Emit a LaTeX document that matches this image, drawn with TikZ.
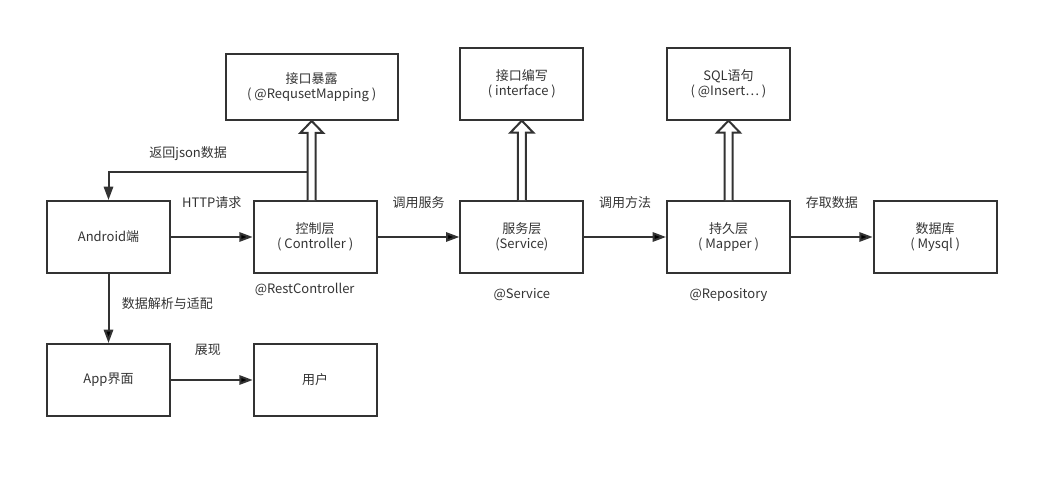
\documentclass[tikz,border=0pt]{standalone}
\usepackage{fontspec}
\setmainfont{Noto Sans CJK SC}
\usepackage{tikz}
\usetikzlibrary{arrows.meta,calc,positioning}
\definecolor{ink}{HTML}{333333}

\begin{document}
\begin{tikzpicture}[x=0.75pt,y=0.75pt,node distance=155pt,on grid,
    >={Triangle[length=10pt,width=7pt]},
    every node/.style={text=ink,font=\fontsize{9.75}{11.25}\selectfont},
    box/.style={draw=ink,line width=1.5pt,minimum width=92.25pt,minimum height=54pt,inner sep=0pt,align=center},
    wire/.style={draw=ink,line width=1.5pt},
    hollow/.style={draw=ink,line width=1.5pt,fill=white,line join=miter}]
    \useasboundingbox (0,0) rectangle (1058,-478);
    \node[box] (android)                        at (108.5,-237) {Android端};
    \node[box] (ctrl)   [right=of android]      {控制层\\( Controller )};
    \node[box] (svc)    [right=of ctrl]         {服务层\\(Service)};
    \node[box] (mapper) [right=of svc]          {持久层\\( Mapper )};
    \node[box] (db)     [right=of mapper]       {数据库\\( Mysql )};
    \node[box] (app)    [below=107.25pt of android] {App界面};
    \node[box] (user)   [right=of app]          {用户};
    \node[box,minimum width=129pt,minimum height=49.5pt] (expo) [above=112.5pt of ctrl,xshift=-2.6pt] {接口暴露\\( @RequsetMapping )};
    \node[box] (iface)  [above=115pt of svc]    {接口编写\\( interface )};
    \node[box] (sql)    [above=115pt of mapper] {SQL语句\\( @Insert… )};
    % annotations
    \node (rest)  [below=3pt of ctrl.south,xshift=-7.9pt] {@RestController};
    \node (serv)  [below=7.5pt of svc.south]    {@Service};
    \node (repo)  [below=7.5pt of mapper.south] {@Repository};
    \path[->,wire]
    (android) edge node[yshift=25.5pt] {HTTP请求} (ctrl)
    (ctrl)    edge node[yshift=25.5pt] {调用服务} (svc)
    (svc)     edge node[yshift=25.5pt] {调用方法} (mapper)
    (mapper)  edge node[yshift=25.5pt] {存取数据} (db)
    % bottom edges
    (android) edge node[anchor=west,xshift=6pt,yshift=4pt] {数据解析与适配} (app)
    (app)     edge node[yshift=22.5pt,xshift=-3pt] {展现} (user);
    % hollow arrows
    \draw[hollow] ($(expo.south |- ctrl.north)+(-4,0)$) -- ($(expo.south)+(-4,-12)$) -- ($(expo.south)+(-11.5,-12)$)
      -- (expo.south) -- ($(expo.south)+(11.5,-12)$) -- ($(expo.south)+(4,-12)$) -- ($(expo.south |- ctrl.north)+(4,0)$);
    \draw[hollow] ($(svc.north)+(-4,0)$) -- ($(iface.south)+(-4,-12)$) -- ($(iface.south)+(-11.5,-12)$)
      -- (iface.south) -- ($(iface.south)+(11.5,-12)$) -- ($(iface.south)+(4,-12)$) -- ($(svc.north)+(4,0)$);
    \draw[hollow] ($(mapper.north)+(-4,0)$) -- ($(sql.south)+(-4,-12)$) -- ($(sql.south)+(-11.5,-12)$)
      -- (sql.south) -- ($(sql.south)+(11.5,-12)$) -- ($(sql.south)+(4,-12)$) -- ($(mapper.north)+(4,0)$);
    % return path
    \coordinate (ret) at ($(expo.south)+(-4,-51)$);
    \draw[->,wire] (ret) -| node[pos=0.3,yshift=13.5pt] {返回json数据} (android.north);
\end{tikzpicture}
\end{document}
